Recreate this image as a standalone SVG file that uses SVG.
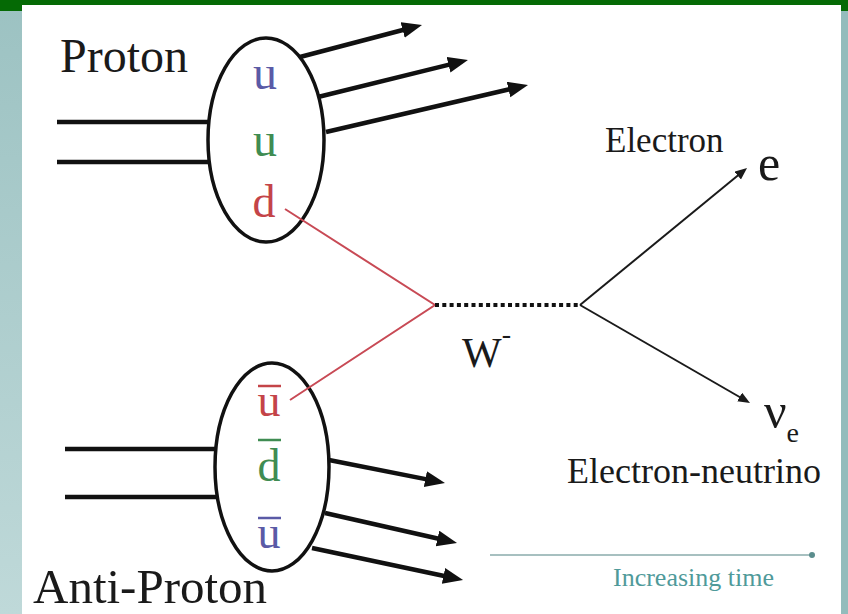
<svg xmlns="http://www.w3.org/2000/svg" width="848" height="614" viewBox="0 0 848 614">
<style>
.serif{font-family:"Liberation Serif","Times New Roman",serif;}
.blk{fill:#1a1a1a;}
.oval{fill:#ffffff;stroke:#111;stroke-width:3.5;}
.beam{stroke:#111;stroke-width:4.5;stroke-linecap:butt;}
.thick{stroke:#111;stroke-width:4.5;fill:none;}
.thin{stroke:#1a1a1a;stroke-width:2;fill:none;}
.red{stroke:#c84a55;stroke-width:2;fill:none;}
.qb{fill:#5a5aa6;}
.qg{fill:#3f8c52;}
.qr{fill:#c44448;}
</style>
<defs>
<linearGradient id="lstrip" x1="0" y1="0" x2="0" y2="1">
<stop offset="0" stop-color="#9cc2c2"/>
<stop offset="1" stop-color="#bfd9d9"/>
</linearGradient>
<marker id="bigHead" markerUnits="userSpaceOnUse" markerWidth="22" markerHeight="18" refX="8" refY="8" orient="auto">
<path d="M0,0 L20,8 L0,16 z" fill="#111"/>
</marker>
<marker id="smallHead" markerUnits="userSpaceOnUse" markerWidth="14" markerHeight="12" refX="6" refY="5" orient="auto">
<path d="M0,0 L12,5 L0,10 z" fill="#1a1a1a"/>
</marker>
</defs>

<!-- background -->
<rect x="0" y="0" width="848" height="614" fill="#ffffff"/>
<rect x="0" y="0" width="22" height="614" fill="url(#lstrip)"/>
<rect x="841" y="0" width="7" height="614" fill="#93bcbc"/>
<rect x="0" y="0" width="848" height="5" fill="#056a05"/>
<rect x="0" y="0" width="22" height="11" fill="#056a05"/>
<rect x="841" y="0" width="7" height="11" fill="#056a05"/>

<!-- proton -->
<g id="proton">
<ellipse class="oval" cx="266" cy="140" rx="58" ry="102"/>
<text class="serif blk" x="60" y="72" font-size="48">Proton</text>
<text class="serif qb" x="265" y="89" font-size="48" text-anchor="middle">u</text>
<text class="serif qg" x="265" y="156" font-size="48" text-anchor="middle">u</text>
<text class="serif qr" x="264" y="217" font-size="46" text-anchor="middle">d</text>
</g>

<!-- antiproton -->
<g id="antiproton">
<ellipse class="oval" cx="272" cy="467" rx="57" ry="104"/>
<text class="serif blk" x="33" y="603" font-size="49">Anti-Proton</text>
<text class="serif qr" x="269" y="416" font-size="46" text-anchor="middle">u</text>
<line x1="258" y1="386" x2="281" y2="386" stroke="#c44448" stroke-width="2.5"/>
<text class="serif qg" x="269" y="481" font-size="46" text-anchor="middle">d</text>
<line x1="258" y1="440" x2="281" y2="440" stroke="#3f8c52" stroke-width="2.5"/>
<text class="serif qb" x="269" y="548" font-size="46" text-anchor="middle">u</text>
<line x1="258" y1="518" x2="281" y2="518" stroke="#5a5aa6" stroke-width="2.5"/>
</g>

<!-- W boson -->
<g id="wboson">
<text class="serif blk" x="462" y="367" font-size="42">W<tspan font-size="28" dy="-24">-</tspan></text>
</g>

<!-- electron -->
<g id="electron">
<text class="serif blk" x="605" y="152" font-size="35">Electron</text>
<text class="serif blk" x="758" y="180" font-size="50">e</text>
</g>

<!-- neutrino -->
<g id="neutrino">
<text class="serif blk" x="764" y="428" font-size="50">ν<tspan font-size="28" dy="14">e</tspan></text>
<text class="serif blk" x="567" y="483" font-size="36">Electron-neutrino</text>
</g>

<!-- time axis label -->
<g id="time">
<text class="serif" x="613" y="586" font-size="26" fill="#4f9a9a">Increasing time</text>
</g>

<!-- connectors -->
<g id="connectors">
<line class="beam" x1="57" y1="122" x2="209" y2="122"/>
<line class="beam" x1="57" y1="162" x2="209.5" y2="162"/>
<line class="beam" x1="65" y1="449" x2="216" y2="449"/>
<line class="beam" x1="65" y1="497" x2="217.5" y2="497"/>
<line class="thick" x1="300" y1="57" x2="410.4" y2="28" marker-end="url(#bigHead)"/>
<line class="thick" x1="318" y1="97" x2="456.3" y2="62.9" marker-end="url(#bigHead)"/>
<line class="thick" x1="326" y1="132" x2="516.3" y2="87.7" marker-end="url(#bigHead)"/>
<line class="thick" x1="329" y1="460" x2="433.2" y2="480.6" marker-end="url(#bigHead)"/>
<line class="thick" x1="325" y1="513" x2="445.3" y2="540.3" marker-end="url(#bigHead)"/>
<line class="thick" x1="312" y1="548" x2="451.3" y2="577.5" marker-end="url(#bigHead)"/>
<polyline class="red" points="285,209 435,305 290,400"/>
<line x1="435" y1="305" x2="580" y2="305" stroke="#111" stroke-width="4" stroke-dasharray="4 3.3"/>
<line class="thin" x1="580" y1="305" x2="742.4" y2="171.8" marker-end="url(#smallHead)"/>
<line class="thin" x1="580" y1="305" x2="744.8" y2="400" marker-end="url(#smallHead)"/>
<line x1="490" y1="555" x2="812" y2="555" stroke="#8aabab" stroke-width="1.6"/>
<circle cx="812" cy="555" r="3" fill="#5b8d8d"/>
</g>
</svg>
